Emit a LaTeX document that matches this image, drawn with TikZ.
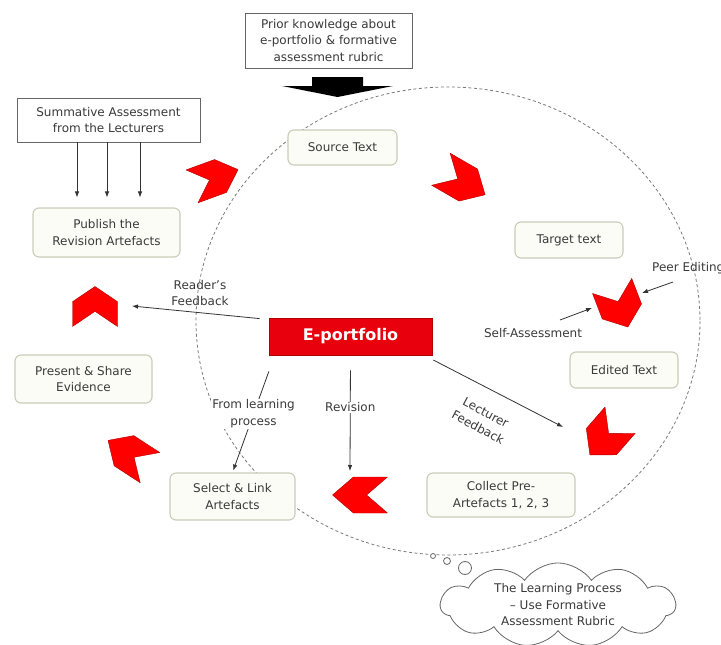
\documentclass[tikz,border=0pt]{standalone}
\usepackage{fontspec}
\setmainfont{DejaVu Sans}
\usetikzlibrary{shapes.symbols,arrows.meta}
\definecolor{txt}{HTML}{3A3A3A}
\definecolor{rboxline}{HTML}{C8CDB8}
\definecolor{rboxfill}{HTML}{FCFCF6}
\definecolor{chevred}{HTML}{FF0000}
\definecolor{chevedge}{HTML}{B00000}
\definecolor{epred}{HTML}{E8000D}
\definecolor{circgray}{HTML}{7A7A7A}
\tikzset{
  plainbox/.style={draw=black!60, line width=0.8pt, fill=white, align=center, inner sep=2pt},
  rbox/.style={draw=rboxline, line width=1.1pt, fill=rboxfill, rounded corners=6pt, align=center, inner sep=2pt},
  epbox/.style={draw=chevedge, line width=0.8pt, fill=epred, text=white, font=\fontsize{16}{19}\selectfont\bfseries},
  chev/.style={fill=chevred, draw=chevedge, line width=0.4pt, line join=round},
  lbl/.style={align=center, inner sep=1pt},
  conn/.style={draw=black!80, line width=0.8pt},
  arr/.style={conn, -{Latex[length=6pt,width=4.5pt]}},
  dashcirc/.style={draw=circgray, line width=0.8pt, dash pattern=on 3pt off 2.5pt},
}
\newcommand\redchev[5]{%
  \begin{scope}[shift={(#1,#2)},rotate=#3]
    \pgfmathsetmacro\chL{#4/2}\pgfmathsetmacro\chH{#5/2}\pgfmathsetmacro\chD{#4*0.38}
    \filldraw[chev] (-\chL,-\chH) -- ({\chL-\chD},-\chH) -- (\chL,0) -- ({\chL-\chD},\chH) -- (-\chL,\chH) -- ({-\chL+\chD},0) -- cycle;
  \end{scope}}
\begin{document}
\begin{tikzpicture}[x=1pt,y=-1pt, font=\fontsize{12}{16.5}\selectfont, text=txt]
\useasboundingbox (0,0) rectangle (721,645);
\fill[white] (0,0) rectangle (721,645);

% dashed cycle
\draw[dashcirc] (448,321) ellipse [x radius=252, y radius=234];

% top box and black arrow
\node[plainbox, minimum width=167pt, minimum height=55pt] (prior) at (328.5,40.5)
  {Prior knowledge about\\e-portfolio \& formative\\assessment rubric};
\fill[black] (312,77) -- (363,77) -- (363,86) -- (393,86) -- (337.5,97) -- (282,86) -- (312,86) -- cycle;

% summative
\node[plainbox, minimum width=183pt, minimum height=44pt] (summ) at (108.5,120)
  {Summative Assessment\\from the Lecturers};
\node[rbox, minimum width=147pt, minimum height=49pt] (publish) at (106.5,232.5)
  {Publish the\\Revision Artefacts};
\foreach \xx in {77,107,140}
  \draw[arr, shorten >=10pt] (summ.south -| \xx,0) -- (publish.north -| \xx,0);

% cycle boxes
\node[rbox, minimum width=109pt, minimum height=35pt] (source) at (342.5,147.5) {Source Text};
\node[rbox, minimum width=108pt, minimum height=36pt] (target) at (569,240) {Target text};
\node[rbox, minimum width=108pt, minimum height=36pt] (edited) at (624,370) {Edited Text};
\node[rbox, minimum width=148pt, minimum height=44pt] (collect) at (501,495) {Collect Pre-\\Artefacts 1, 2, 3};
\node[rbox, minimum width=125pt, minimum height=47pt] (select) at (232.5,496.5) {Select \& Link\\Artefacts};
\node[rbox, minimum width=137pt, minimum height=48pt] (present) at (83.5,379) {Present \& Share\\Evidence};

% chevrons
\redchev{215}{178}{20}{49}{35}
\redchev{463}{182}{-30}{51}{37}
\redchev{620}{306.5}{-69}{44}{42}
\redchev{605}{437.5}{-131}{46}{40}
\redchev{360}{495}{180}{55}{36}
\redchev{129}{454}{147}{50}{36}
\redchev{95}{306.5}{90}{40}{45}

% centre
\node[epbox, minimum width=163pt, minimum height=37pt] (ep) at (350.5,336.5) {E-portfolio};

% coordinates for free ends
\coordinate (rfEnd) at (132,306);
\coordinate (revEnd) at (350,471);
\coordinate (lecEnd) at (563,427);
\coordinate (saA) at (560,320);
\coordinate (saB) at (592,308);
\coordinate (peA) at (673,282);
\coordinate (peB) at (642,293);

% connectors
\draw[arr] ([xshift=-9pt,yshift=-1pt]ep.north west) -- (rfEnd);
\node[lbl] (rflbl) at (200,293) {Reader's\\Feedback};

\draw[arr, shorten <=17pt, shorten >=2pt] ([xshift=6pt]ep.south west) --
  node[lbl, fill=white, pos=0.5] (fl) {From learning\\process} (select.north);

\draw[arr, shorten <=15pt] (ep.south) -- node[lbl, fill=white, pos=0.45] (rev) {Revision} (revEnd);

\draw[arr, shorten <=10pt] ([xshift=-8pt]ep.south east) -- (lecEnd);
\node[lbl, rotate=-28] (lec) at (482,420) {Lecturer\\Feedback};

\node[lbl, anchor=center] (sa) at (533,333) {Self-Assessment};
\draw[arr] (saA) -- (saB);
\node[lbl, anchor=west] (pe) at (651,268) {Peer Editing};
\draw[arr] (peA) -- (peB);

% thought cloud
\draw[black!60, line width=0.8pt, fill=white] (433,556) circle [radius=2.5];
\draw[black!60, line width=0.8pt, fill=white] (447,561) circle [radius=3.5];
\draw[black!60, line width=0.8pt, fill=white] (465,568) circle [radius=6.5];
\node[cloud, cloud puffs=11, cloud puff arc=110, aspect=3, draw=black!60, line width=0.8pt, fill=white,
      minimum width=235pt, minimum height=78pt, align=center, inner sep=0pt] (cloud) at (558,605)
  {The Learning Process\\– Use Formative\\Assessment Rubric};
\end{tikzpicture}
\end{document}
